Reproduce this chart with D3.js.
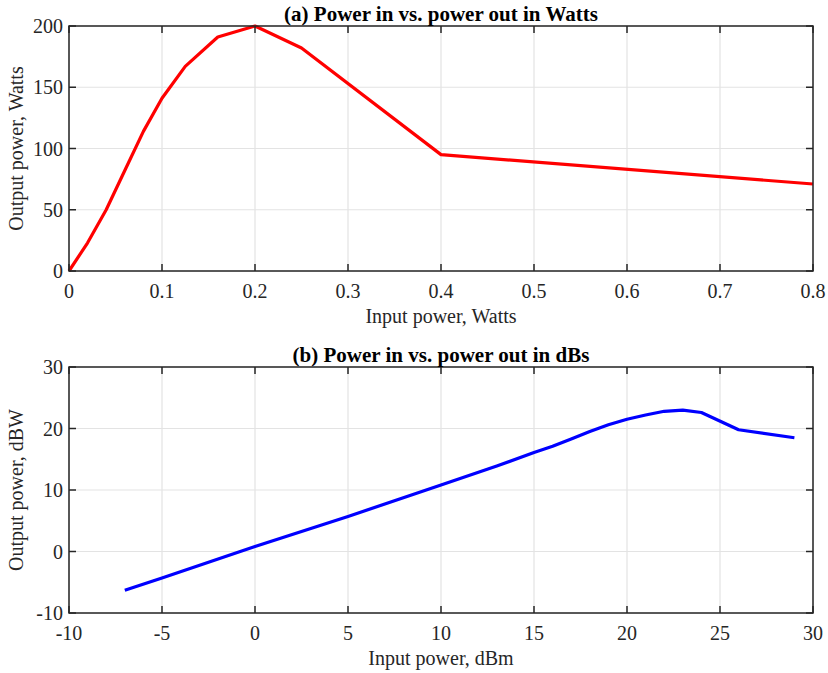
<!DOCTYPE html>
<html>
<head>
<meta charset="utf-8">
<script src="https://cdn.jsdelivr.net/npm/d3@7"></script>
<style>
	body { margin: 0; background: #fff; }
	svg { display: block; }
	svg text { font-family: "Liberation Serif", "Times New Roman", serif; }
</style>
</head>
<body>
<div id="chart"></div>
<script>

// (a) watts
var wattsIn  = [0, 0.02, 0.04, 0.06, 0.08, 0.1, 0.125, 0.16, 0.2, 0.25, 0.4, 0.8];
var wattsOut = [0, 23, 50, 82, 114, 141, 167, 191, 200, 182, 95, 71];
var wattsXTicks = [0, 0.1, 0.2, 0.3, 0.4, 0.5, 0.6, 0.7, 0.8];
var wattsYTicks = [0, 50, 100, 150, 200];

// (b) dB
var dbmIn  = [-7, -5, 0, 5, 10, 13, 15, 16, 17, 18, 19, 20, 21, 22, 23, 24, 26, 29];
var dbwOut = [-6.3, -4.3, 0.8, 5.7, 10.8, 13.9, 16.1, 17.1, 18.3, 19.5, 20.6, 21.5, 22.2, 22.8, 23.0, 22.6, 19.8, 18.5];
var dbXTicks = [-10, -5, 0, 5, 10, 15, 20, 25, 30];
var dbYTicks = [-10, 0, 10, 20, 30];


var W = 828, H = 673;
var svg = d3.select("#chart").append("svg")
	.attr("width", W)
	.attr("height", H);

function drawPanel(opt)
{
	var x = d3.scaleLinear().domain(opt.xDomain).range([69, 813]);
	var y = d3.scaleLinear().domain(opt.yDomain).range([opt.bottom, opt.top]);
	var g = svg.append("g");
	var tick = 7;

	// grid
	g.selectAll(".gx").data(opt.xTicks).enter().append("line")
	.attr("x1", function(d){ return x(d) }).attr("x2", function(d){ return x(d) })
	.attr("y1", opt.top).attr("y2", opt.bottom)
	.attr("stroke", "#e3e3e3").attr("stroke-width", 1.2);

	g.selectAll(".gy").data(opt.yTicks).enter().append("line")
	.attr("y1", function(d){ return y(d) }).attr("y2", function(d){ return y(d) })
	.attr("x1", 69).attr("x2", 813)
	.attr("stroke", "#e3e3e3").attr("stroke-width", 1.2);

	// data line
	var pts = opt.xs.map(function(v, i){ return [v, opt.ys[i]] });
	g.append("path")
	.datum(pts)
	.attr("d", d3.line().x(function(d){ return x(d[0]) }).y(function(d){ return y(d[1]) }))
	.attr("fill", "none")
	.attr("stroke", opt.color)
	.attr("stroke-width", 3.2)
	.attr("stroke-linejoin", "round");

	// ticks on all four sides, pointing in
	[["b", opt.bottom, -tick], ["t", opt.top, tick]].forEach(function(s){
		g.selectAll(".tx" + s[0]).data(opt.xTicks).enter().append("line")
		.attr("x1", function(d){ return x(d) }).attr("x2", function(d){ return x(d) })
		.attr("y1", s[1]).attr("y2", s[1] + s[2])
		.attr("stroke", "#262626").attr("stroke-width", 1.5);
	});
	[["l", 69, tick], ["r", 813, -tick]].forEach(function(s){
		g.selectAll(".ty" + s[0]).data(opt.yTicks).enter().append("line")
		.attr("y1", function(d){ return y(d) }).attr("y2", function(d){ return y(d) })
		.attr("x1", s[1]).attr("x2", s[1] + s[2])
		.attr("stroke", "#262626").attr("stroke-width", 1.5);
	});

	// box
	g.append("rect")
	.attr("x", 69).attr("y", opt.top)
	.attr("width", 744).attr("height", opt.bottom - opt.top)
	.attr("fill", "none").attr("stroke", "#262626").attr("stroke-width", 1.5);

	// tick labels
	g.selectAll(".lx").data(opt.xTicks).enter().append("text")
	.attr("x", function(d){ return x(d) })
	.attr("y", opt.bottom + 27)
	.attr("text-anchor", "middle")
	.attr("font-size", 20).attr("fill", "#262626")
	.text(function(d){ return opt.xFmt(d) });

	g.selectAll(".ly").data(opt.yTicks).enter().append("text")
	.attr("x", 63)
	.attr("y", function(d){ return y(d) + 7 })
	.attr("text-anchor", "end")
	.attr("font-size", 20).attr("fill", "#262626")
	.text(function(d){ return d });

	// title + labels
	g.append("text")
	.attr("x", 441).attr("y", opt.top - 5)
	.attr("text-anchor", "middle")
	.attr("font-size", 21).attr("font-weight", "bold").attr("fill", "#000")
	.text(opt.title);

	g.append("text")
	.attr("x", 441).attr("y", opt.bottom + 52)
	.attr("text-anchor", "middle")
	.attr("font-size", 20).attr("fill", "#262626")
	.text(opt.xLabel);

	g.append("text")
	.attr("transform", "translate(23," + ((opt.top + opt.bottom) / 2) + ") rotate(-90)")
	.attr("text-anchor", "middle")
	.attr("font-size", 20).attr("fill", "#262626")
	.text(opt.yLabel);
}

drawPanel({
	xs: wattsIn, ys: wattsOut, color: "#ff0000",
	xDomain: [0, 0.8], yDomain: [0, 200],
	xTicks: wattsXTicks, yTicks: wattsYTicks,
	xFmt: function(d){ return d === 0 ? "0" : d3.format(".1f")(d) },
	top: 26, bottom: 271,
	title: "(a) Power in vs. power out in Watts",
	xLabel: "Input power, Watts",
	yLabel: "Output power, Watts"
});

drawPanel({
	xs: dbmIn, ys: dbwOut, color: "#0000ff",
	xDomain: [-10, 30], yDomain: [-10, 30],
	xTicks: dbXTicks, yTicks: dbYTicks,
	xFmt: function(d){ return d },
	top: 367, bottom: 613,
	title: "(b) Power in vs. power out in dBs",
	xLabel: "Input power, dBm",
	yLabel: "Output power, dBW"
});

</script>
</body>
</html>
